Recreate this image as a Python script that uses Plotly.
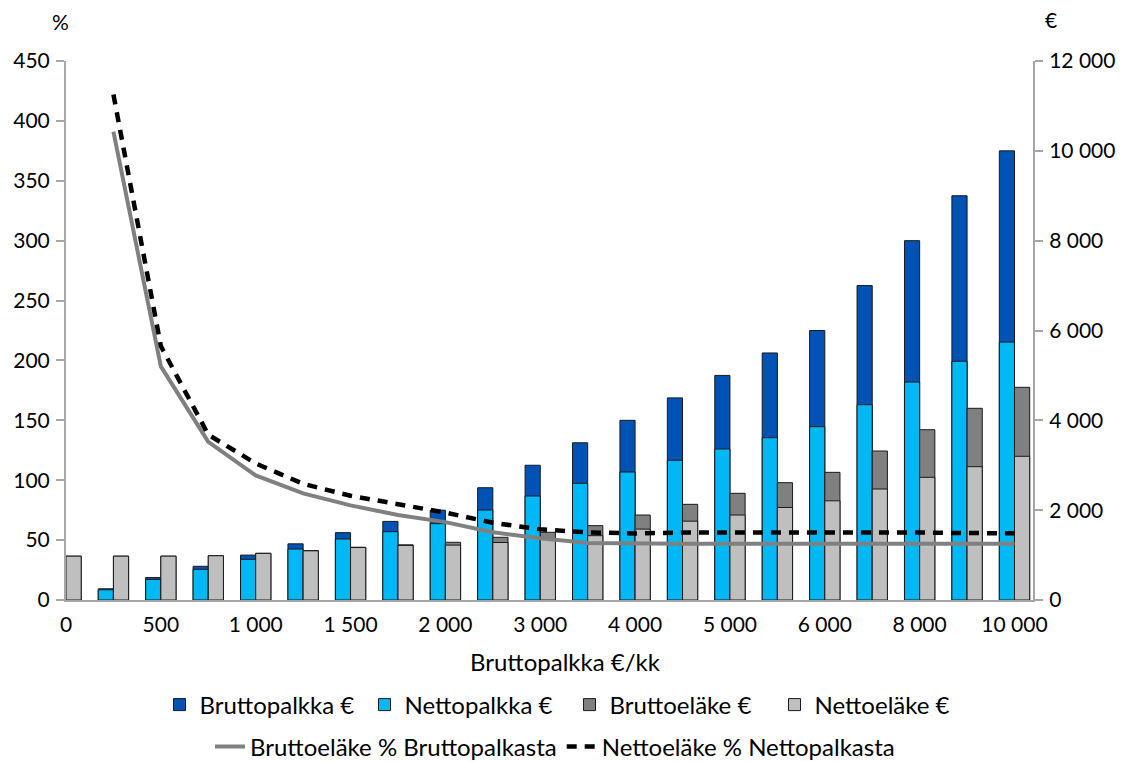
import plotly.graph_objects as go

categories = ["0", "250", "500", "750", "1000", "1250", "1500", "1750", "2000", "2500",
              "3000", "3500", "4000", "4500", "5000", "5500", "6000", "7000", "8000", "9000", "10000"]
tick_cats = ["0", "500", "1000", "1500", "2000", "3000", "4000", "5000", "6000", "8000", "10000"]
tick_text = ["0", "500", "1 000", "1 500", "2 000", "3 000", "4 000", "5 000", "6 000", "8 000", "10 000"]

brutto_palkka = [0, 250, 500, 750, 1000, 1250, 1500, 1750, 2000, 2500,
                 3000, 3500, 4000, 4500, 5000, 5500, 6000, 7000, 8000, 9000, 10000]
netto_palkka = [0, 228, 457, 683, 906, 1135, 1358, 1521, 1700, 2003,
                2315, 2598, 2850, 3110, 3362, 3614, 3859, 4348, 4853, 5314, 5743]
brutto_elake = [976, 976, 976, 985, 1040, 1102, 1175, 1228, 1285, 1396,
                1507, 1655, 1892, 2130, 2375, 2612, 2842, 3317, 3791, 4268, 4735]
netto_elake = [976, 976, 976, 985, 1038, 1095, 1168, 1215, 1222, 1280,
               1366, 1432, 1578, 1755, 1892, 2060, 2208, 2471, 2731, 2968, 3199]
brutto_pct = [None, 391, 195, 132, 104, 89, 79, 71, 65, 56.5,
              51.5, 47.5, 47.0, 47.0, 47.0, 47.0, 47.0, 47.0, 47.0, 47.0, 47.0]
netto_pct = [None, 422, 212, 138, 114, 97, 87, 80, 73, 64.5,
             59, 56.5, 55.5, 56.3, 56.3, 57.0, 57.0, 56.8, 56.3, 55.9, 55.7]

FONT = "Lato, 'Open Sans', sans-serif"
TICK = 21
TXT = 24
BW = 0.32
edge = dict(color="#1a1a1a", width=1)

# the page body adds an 8px offset, so the figure is 8px smaller than the window
W, H = 1123, 754
OFF = 8

fig = go.Figure()
fig.add_trace(go.Bar(x=categories, y=brutto_palkka, name="Bruttopalkka €", width=BW, offset=-BW,
                     marker=dict(color="#0052B4", line=edge), legend="legend", yaxis="y"))
fig.add_trace(go.Bar(x=categories, y=netto_palkka, name="Nettopalkka €", width=BW, offset=-BW,
                     marker=dict(color="#00B8F5", line=edge), legend="legend", yaxis="y"))
fig.add_trace(go.Bar(x=categories, y=brutto_elake, name="Bruttoeläke €", width=BW, offset=0,
                     marker=dict(color="#808080", line=edge), legend="legend", yaxis="y"))
fig.add_trace(go.Bar(x=categories, y=netto_elake, name="Nettoeläke €", width=BW, offset=0,
                     marker=dict(color="#BFBFBF", line=edge), legend="legend", yaxis="y"))
fig.add_trace(go.Scatter(x=categories, y=brutto_pct, name="Bruttoeläke % Bruttopalkasta",
                         mode="lines", line=dict(color="#808080", width=4),
                         legend="legend2", yaxis="y2"))
fig.add_trace(go.Scatter(x=categories, y=netto_pct, name="Nettoeläke % Nettopalkasta",
                         mode="lines", line=dict(color="#000000", width=4.5, dash="10px,8px"),
                         legend="legend2", yaxis="y2"))

axis_line = dict(showline=True, linecolor="#A6A6A6", linewidth=2, automargin=False)

fig.update_layout(
    width=W, height=H,
    margin=dict(l=66 - OFF, r=98, t=61 - OFF, b=162, autoexpand=False),
    paper_bgcolor="white", plot_bgcolor="white",
    font=dict(family=FONT, size=TXT, color="black"),
    barmode="overlay",
    separators=", ",
    showlegend=True,
    xaxis=dict(type="category", range=[0, 20.39], tickmode="array",
               tickvals=tick_cats, ticktext=tick_text, ticks="",
               ticklabelstandoff=5,
               showgrid=False, zeroline=False, tickfont=dict(size=TICK),
               **axis_line),
    yaxis=dict(side="right", range=[0, 12000], dtick=2000, tickformat=",d",
               ticks="outside", ticklen=8, tickcolor="#A6A6A6", tickwidth=1.5,
               ticklabelstandoff=2,
               showgrid=False, zeroline=False, tickfont=dict(size=TICK), **axis_line),
    yaxis2=dict(side="left", overlaying="y", range=[0, 450], dtick=50,
                ticks="outside", ticklen=8, tickcolor="#A6A6A6", tickwidth=1.5,
                ticklabelstandoff=2,
                showgrid=False, zeroline=False, tickfont=dict(size=TICK), **axis_line),
    legend=dict(orientation="h", xref="container", yref="container",
                x=(569.5 - OFF) / W, xanchor="center", y=1 - (705 - OFF) / H, yanchor="middle",
                font=dict(size=TXT), entrywidth=160, traceorder="normal"),
    legend2=dict(orientation="h", xref="container", yref="container",
                 x=(555 - OFF) / W, xanchor="center", y=1 - (747 - OFF) / H, yanchor="middle",
                 font=dict(size=TXT), traceorder="normal"),
    annotations=[
        dict(text="%", xref="paper", yref="paper", x=(60 - 66) / 967, y=(600 - 22) / 539,
             showarrow=False, font=dict(size=TICK), xanchor="center", yanchor="middle"),
        dict(text="€", xref="paper", yref="paper", x=(1051 - 66) / 967, y=(600 - 20) / 539,
             showarrow=False, font=dict(size=TICK), xanchor="center", yanchor="middle"),
        dict(text="Bruttopalkka €/kk", xref="paper", yref="paper", x=(565 - 66) / 967,
             y=(600 - 661) / 539, showarrow=False, font=dict(size=TXT),
             xanchor="center", yanchor="middle"),
    ],
)

fig.write_html("out.html")
